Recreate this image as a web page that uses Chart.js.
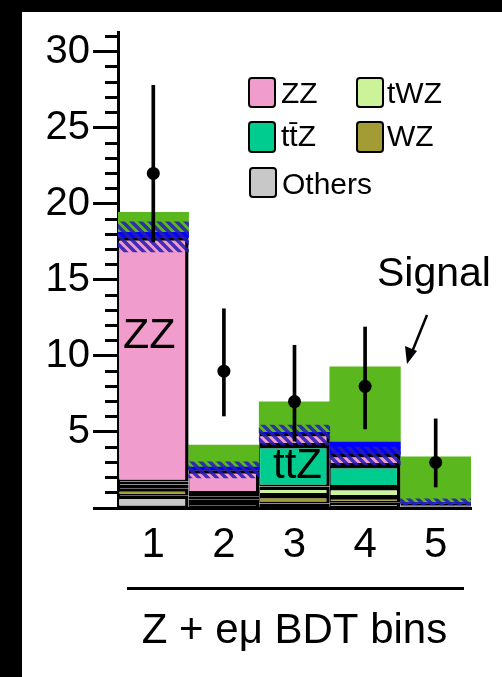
<!DOCTYPE html>
<html><head><meta charset="utf-8">
<script src="https://cdn.jsdelivr.net/npm/chart.js@4"></script>
<style>
html,body{margin:0;padding:0;background:#fff;}
#wrap{position:relative;width:502px;height:677px;overflow:hidden;background:#fff;font-family:"Liberation Sans",Arial,Helvetica,sans-serif;color:#000;}
#c{position:absolute;left:0;top:0;width:502px;height:677px;}
.blk{position:absolute;background:#000;}
.t{position:absolute;white-space:nowrap;color:#000;}
.lg{font-size:30px;line-height:30px;}
.sw{position:absolute;box-sizing:border-box;border:2.5px solid #000;border-radius:4px;}
</style></head>
<body><div id="wrap">
<canvas id="c" width="502" height="677"></canvas>
<div class="blk" style="left:0;top:0;width:22px;height:677px"></div>
<div class="blk" style="left:0;top:0;width:502px;height:12px"></div>
<div class="blk" style="left:127px;top:587px;width:337px;height:3px"></div>

<div class="sw" style="left:248px;top:77px;width:28px;height:31px;background:#f09ccc"></div>
<div class="t lg" style="left:281px;top:78px">ZZ</div>
<div class="sw" style="left:356px;top:77px;width:28px;height:31px;background:#ccf29a"></div>
<div class="t lg" style="left:387px;top:78px">tWZ</div>
<div class="sw" style="left:248px;top:121px;width:28px;height:32px;background:#00cc90"></div>
<div class="t lg" style="left:281px;top:121px">tt&#x0304;Z</div>
<div class="sw" style="left:356px;top:121px;width:28px;height:32px;background:#a39b33"></div>
<div class="t lg" style="left:387px;top:121px">WZ</div>
<div class="sw" style="left:249px;top:167px;width:28px;height:31px;background:#c8c8c8"></div>
<div class="t lg" style="left:282px;top:169px">Others</div>

<div class="t" style="left:123px;top:312px;font-size:43px;line-height:43px">ZZ</div>
<div class="t" style="left:273px;top:443px;font-size:42px;line-height:42px">ttZ</div>
<div class="t" style="left:377px;top:252px;font-size:41px;line-height:41px">Signal</div>
<svg style="position:absolute;left:0;top:0" width="502" height="677">
  <line x1="427" y1="315" x2="412" y2="352" stroke="#000" stroke-width="2.5"/>
  <polygon points="407,364 405,346 417,351" fill="#000"/>
</svg>
</div>
<script>
// ---- data ----
const bins    = ['1', '2', '3', '4', '5'];
const others  = [0.80, 0.33, 0.30, 0.35, 0.05];
const wz      = [0.50, 0.25, 0.55, 0.37, 0.05];
const twz     = [0.25, 0.20, 0.56, 0.66, 0.05];
const ttz     = [0.20, 0.20, 2.73, 1.45, 0.05];
const zz      = [16.05, 1.51, 0.79, 0.72, 0.10];
const extra   = [0.33, 0.20, 0.05, 0.79, 0.05];
const signal  = [1.31, 1.44, 2.00, 4.94, 3.01];
const uncLow  = [16.84, 1.97, 4.14, 2.83, 0.20];
const uncHigh = [18.82, 3.03, 5.46, 4.01, 0.60];
const observed = [22, 9, 7, 8, 3];
const errLow  = [17.5, 6.05, 4.4, 5.2, 1.38];
const errHigh = [27.8, 13.1, 10.7, 11.9, 5.86];
const yTicksMajor = [5, 10, 15, 20, 25, 30];

function hatchPattern() {
  const c = document.createElement('canvas');
  c.width = 9; c.height = 9;
  const g = c.getContext('2d');
  g.strokeStyle = 'rgba(40,28,180,0.88)';
  g.lineWidth = 3.5;
  g.beginPath();
  g.moveTo(-5, -5); g.lineTo(14, 14);
  g.moveTo(-5, 4); g.lineTo(5, 14);
  g.moveTo(4, -5); g.lineTo(14, 5);
  g.stroke();
  return g.createPattern(c, 'repeat');
}

const FONT = '"Liberation Sans", Arial, Helvetica, sans-serif';
const bw = {top: 3.5, left: 1, right: 3.5, bottom: 2};
function bkg(label, data, color) {
  return {type: 'bar', label, data, backgroundColor: color, borderColor: '#000',
    borderWidth: bw, borderSkipped: false, inflateAmount: 0, stack: 'mc', order: 10,
    barPercentage: 1, categoryPercentage: 1, yAxisID: 'y'};
}
function plain(label, data, color) {
  return {type: 'bar', label, data, backgroundColor: color, borderWidth: 0,
    stack: 'mc', order: 10, barPercentage: 1, categoryPercentage: 1, yAxisID: 'y'};
}

const datasets = [
  bkg('Others', others, '#c8c8c8'),
  bkg('WZ', wz, '#a39b33'),
  bkg('tWZ', twz, '#ccf29a'),
  bkg('ttZ', ttz, '#00cc90'),
  bkg('ZZ', zz, '#f09ccc'),
  plain('Other signal', extra, '#0000ff'),
  plain('Signal', signal, '#5ab81e'),
  {type: 'bar', label: 'Uncertainty', data: bins.map((b, i) => [uncLow[i], uncHigh[i]]),
    backgroundColor: hatchPattern(), borderWidth: 0, stack: 'unc', grouped: false, order: 2,
    barPercentage: 1, categoryPercentage: 1, yAxisID: 'y'},
  {type: 'bar', label: 'Data error', data: bins.map((b, i) => [errLow[i], errHigh[i]]),
    backgroundColor: '#000', borderWidth: 0, stack: 'err', grouped: false, order: 1,
    barThickness: 3, yAxisID: 'y'},
  {type: 'line', label: 'Data', data: observed, showLine: false, pointRadius: 6.5,
    pointBackgroundColor: '#000', pointBorderWidth: 0, borderColor: '#000', order: 0, yAxisID: 'y'}
];

new Chart(document.getElementById('c'), {
  data: {labels: bins, datasets},
  options: {
    responsive: false, animation: false,
    layout: {padding: {left: 0, right: 31, top: 32, bottom: 0}},
    plugins: {legend: {display: false}, tooltip: {enabled: false}},
    scales: {
      x: {type: 'category', offset: true,
        grid: {display: false, drawTicks: false}, border: {display: true, color: '#000', width: 3},
        ticks: {color: '#000', font: {family: FONT, size: 42}, padding: 12, maxRotation: 0},
        title: {display: true, text: 'Z + eμ BDT bins', color: '#000', font: {family: FONT, size: 42},
          padding: {top: 0, bottom: 20}},
        afterFit(s) { s.height = 169; }
      },
      y: {type: 'linear', position: 'left', weight: 0, stacked: true, min: 0, max: 31.3,
        ticks: {display: false, stepSize: 1, includeBounds: false},
        grid: {drawOnChartArea: false, tickLength: 13, tickWidth: 3, tickColor: '#000'},
        border: {display: true, color: '#000', width: 3},
        afterFit(s) { s.width = 13; }
      },
      y2: {type: 'linear', position: 'left', weight: 1, min: 0, max: 31.3,
        afterBuildTicks(s) { s.ticks = [0].concat(yTicksMajor).map(v => ({value: v})); },
        ticks: {color: '#000', font: {family: FONT, size: 40}, padding: 3,
          callback: v => (v === 0 ? '' : String(v))},
        grid: {drawOnChartArea: false, tickLength: 12, tickWidth: 3, tickColor: '#000'},
        border: {display: false},
        afterFit(s) { s.width = 105; }
      }
    }
  }
});
</script>
</body></html>
